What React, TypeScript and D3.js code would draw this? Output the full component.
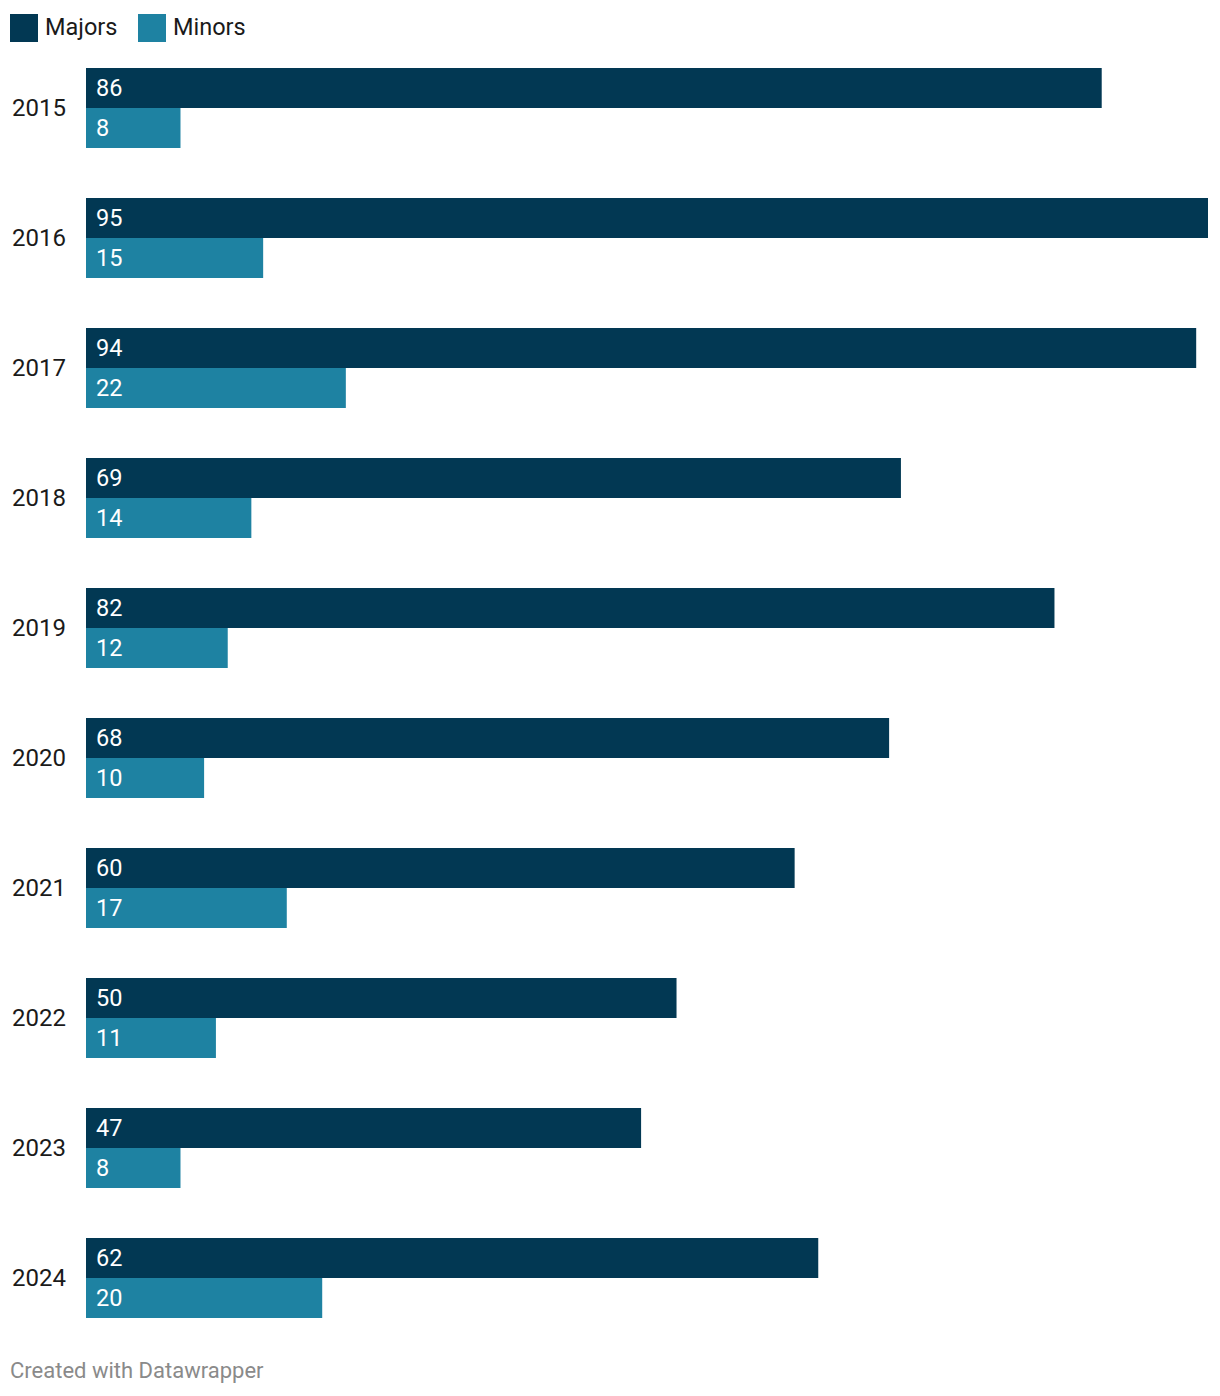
import React from "react";
import * as d3 from "d3";

const years = ["2015", "2016", "2017", "2018", "2019", "2020", "2021", "2022", "2023", "2024"];
const majors = [86, 95, 94, 69, 82, 68, 60, 50, 47, 62];
const minors = [8, 15, 22, 14, 12, 10, 17, 11, 8, 20];
const seriesNames = ["Majors", "Minors"];
const seriesColors = ["#023853", "#1e82a2"];

const W = 1220;
const H = 1396;
const FONT = "Roboto, 'Noto Sans', sans-serif";

export default function App() {
  const x = d3.scaleLinear().domain([0, 95]).range([86, 1208]);
  const y = d3.scaleBand<string>().domain(years).range([68, 1318]).paddingInner(50 / 130).paddingOuter(0);
  const bh = y.bandwidth() / 2;
  const series = [majors, minors];

  return (
    <svg width={W} height={H} style={{ position: "absolute", left: 0, top: 0, background: "#fff" }} fontFamily={FONT}>
      <g>
        <rect x={10} y={14} width={28} height={28} fill={seriesColors[0]} />
        <text x={45} y={27} dy="0.35em" fontSize={23.5} fill="#1a1a1a">{seriesNames[0]}</text>
        <rect x={138} y={14} width={28} height={28} fill={seriesColors[1]} />
        <text x={173} y={27} dy="0.35em" fontSize={23.5} fill="#1a1a1a">{seriesNames[1]}</text>
      </g>
      {years.map((yr, i) => {
        const y0 = y(yr)!;
        return (
          <g key={yr}>
            <text x={12} y={y0 + bh} dy="0.35em" fontSize={24} fill="#1a1a1a">{yr}</text>
            {series.map((s, j) => (
              <g key={j}>
                <rect x={x(0)} y={y0 + j * bh} width={x(s[i]) - x(0)} height={bh} fill={seriesColors[j]} />
                <text x={x(0) + 10} y={y0 + j * bh + bh / 2} dy="0.35em" fontSize={23.5} fill="#ffffff">{s[i]}</text>
              </g>
            ))}
          </g>
        );
      })}
      <text x={10} y={1370} dy="0.35em" fontSize={22} fill="#8a8a8a">Created with Datawrapper</text>
    </svg>
  );
}
